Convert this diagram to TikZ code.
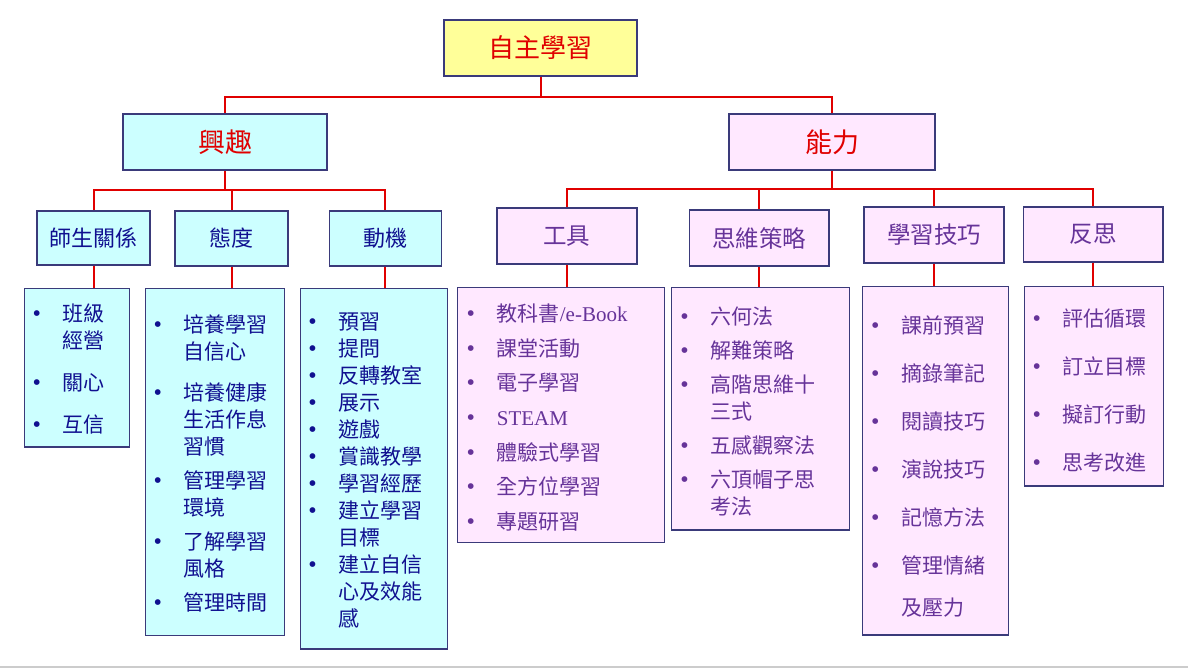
\documentclass[tikz,border=0pt]{standalone}
\usepackage{fontspec}
\setmainfont{Noto Sans CJK TC}
\newfontfamily\lat{Liberation Serif}
\definecolor{rootfill}{HTML}{FFFF99}
\definecolor{cyanfill}{HTML}{CCFFFF}
\definecolor{pinkfill}{HTML}{FFE8FF}
\definecolor{frame}{HTML}{3A3A7A}
\definecolor{linkred}{HTML}{E00000}
\definecolor{navytxt}{HTML}{101090}
\definecolor{purptxt}{HTML}{663399}
\newcommand{\bul}{\makebox[0pt]{\fontsize{24}{27}\selectfont\lat\textbullet}\hspace{26pt}}
\newcommand{\nob}{\hspace{26pt}}
\begin{document}
\begin{tikzpicture}[x=1pt,y=-1pt,
  box/.style={draw=frame,line width=1.5pt,inner sep=0pt},
  cy/.style={box,fill=cyanfill,text=navytxt},
  pk/.style={box,fill=pinkfill,text=purptxt},
  link/.style={draw=linkred,line width=2pt},
  lst/.style={inner sep=0pt,anchor=base west,font=\fontsize{21}{27}\selectfont}]
\useasboundingbox (0,0) rectangle (1188,668);
\draw[black!20,line width=2pt] (0,666.5) -- (1188,666.5);

\node[box,fill=rootfill,text=linkred,minimum width=193pt,minimum height=56pt,font=\fontsize{26}{30}\selectfont] (root) at (540.5,48) {自主學習};
\node[cy,text=linkred,minimum width=204pt,minimum height=56pt,font=\fontsize{27}{30}\selectfont] (xq) at (225,142) {興趣};
\node[pk,text=linkred,minimum width=206pt,minimum height=56pt,font=\fontsize{27}{30}\selectfont] (nl) at (832,142) {能力};

\node[cy,minimum width=113pt,minimum height=54pt,font=\fontsize{22}{26}\selectfont] (ss) at (93.5,238) {師生關係};
\node[cy,minimum width=113pt,minimum height=55pt,font=\fontsize{22}{26}\selectfont] (td) at (231.5,238.5) {態度};
\node[cy,minimum width=112pt,minimum height=55pt,font=\fontsize{22}{26}\selectfont] (dj) at (385.3,238.5) {動機};
\node[pk,minimum width=140pt,minimum height=56pt,font=\fontsize{23.5}{27}\selectfont] (gj) at (566.8,236) {工具};
\node[pk,minimum width=139.5pt,minimum height=56pt,font=\fontsize{23.5}{27}\selectfont] (sw) at (759,238) {思維策略};
\node[pk,minimum width=140pt,minimum height=56pt,font=\fontsize{23.5}{27}\selectfont] (jq) at (934,235) {學習技巧};
\node[pk,minimum width=139.5pt,minimum height=55pt,font=\fontsize{23.5}{27}\selectfont] (fs) at (1093.4,234.5) {反思};

\node[cy,minimum width=105pt,minimum height=158.7pt] (b1) at (76.8,367.7) {};
\node[cy,minimum width=139pt,minimum height=347pt] (b2) at (214.8,461.8) {};
\node[cy,minimum width=147pt,minimum height=360.7pt] (b3) at (373.8,468.7) {};
\node[pk,minimum width=207pt,minimum height=255pt] (b4) at (560.8,414.8) {};
\node[pk,minimum width=177.6pt,minimum height=242.7pt] (b5) at (760.5,408.7) {};
\node[pk,minimum width=146pt,minimum height=348.3pt] (b6) at (935.3,460.8) {};
\node[pk,minimum width=139pt,minimum height=199.3pt] (b7) at (1093.8,386.3) {};

\node[lst,text=navytxt] (t1) at (36.7,321) {\begin{tabular}[t]{@{}l@{}}
\bul 班級\\ \nob 經營\\[15pt] \bul 關心\\[15pt] \bul 互信
\end{tabular}};
\node[lst,text=navytxt] (t2) at (157.7,332) {\begin{tabular}[t]{@{}l@{}}
\bul 培養學習\\ \nob 自信心\\[14pt] \bul 培養健康\\ \nob 生活作息\\ \nob 習慣\\[7pt]
\bul 管理學習\\ \nob 環境\\[7pt] \bul 了解學習\\ \nob 風格\\[7pt] \bul 管理時間
\end{tabular}};
\node[lst,text=navytxt] (t3) at (312.3,329.7) {\begin{tabular}[t]{@{}l@{}}
\bul 預習\\ \bul 提問\\ \bul 反轉教室\\ \bul 展示\\ \bul 遊戲\\ \bul 賞識教學\\
\bul 學習經歷\\ \bul 建立學習\\ \nob 目標\\ \bul 建立自信\\ \nob 心及效能\\ \nob 感
\end{tabular}};
\node[lst,text=purptxt] (t4) at (470.7,321.3) {\begin{tabular}[t]{@{}l@{}}
\bul 教科書{\lat /e-Book}\\[7.7pt] \bul 課堂活動\\[7.7pt] \bul 電子學習\\[7.7pt] \bul {\lat STEAM}\\[7.7pt]
\bul 體驗式學習\\[7.7pt] \bul 全方位學習\\[7.7pt] \bul 專題研習
\end{tabular}};
\node[lst,text=purptxt] (t5) at (684.3,324) {\begin{tabular}[t]{@{}l@{}}
\bul 六何法\\[7pt] \bul 解難策略\\[7pt] \bul 高階思維十\\ \nob 三式\\[7pt]
\bul 五感觀察法\\[7pt] \bul 六頂帽子思\\ \nob 考法
\end{tabular}};
\node[lst,text=purptxt] (t6) at (875,333.7) {\begin{tabular}[t]{@{}l@{}}
\bul 課前預習\\[21pt] \bul 摘錄筆記\\[21pt] \bul 閱讀技巧\\[21pt] \bul 演說技巧\\[21pt]
\bul 記憶方法\\[21pt] \bul 管理情緒\\[14.7pt] \nob 及壓力
\end{tabular}};
\node[lst,text=purptxt] (t7) at (1036.7,326.3) {\begin{tabular}[t]{@{}l@{}}
\bul 評估循環\\[21pt] \bul 訂立目標\\[21pt] \bul 擬訂行動\\[21pt] \bul 思考改進
\end{tabular}};

\coordinate (j0) at (540.5,97);
\coordinate (j1) at (225,190);
\coordinate (j2) at (832,189);
\draw[link] (root) -- (j0);
\draw[link] (xq.north) |- (j0) -| (nl.north);
\draw[link] (xq) -- (j1);
\draw[link] (ss.north) |- (j1) -| (dj.north);
\draw[link] (td.north) -- (td.north |- j1);
\draw[link] (nl) -- (j2);
\draw[link] (gj.north) |- (j2) -| (fs.north);
\draw[link] (sw.north) -- (sw.north |- j2);
\draw[link] (jq.north) -- (jq.north |- j2);
\draw[link] (ss) -- (ss |- b1.north);
\draw[link] (td) -- (td |- b2.north);
\draw[link] (dj) -- (dj |- b3.north);
\draw[link] (gj) -- (gj |- b4.north);
\draw[link] (sw) -- (sw |- b5.north);
\draw[link] (jq) -- (jq |- b6.north);
\draw[link] (fs) -- (fs |- b7.north);
\end{tikzpicture}
\end{document}
